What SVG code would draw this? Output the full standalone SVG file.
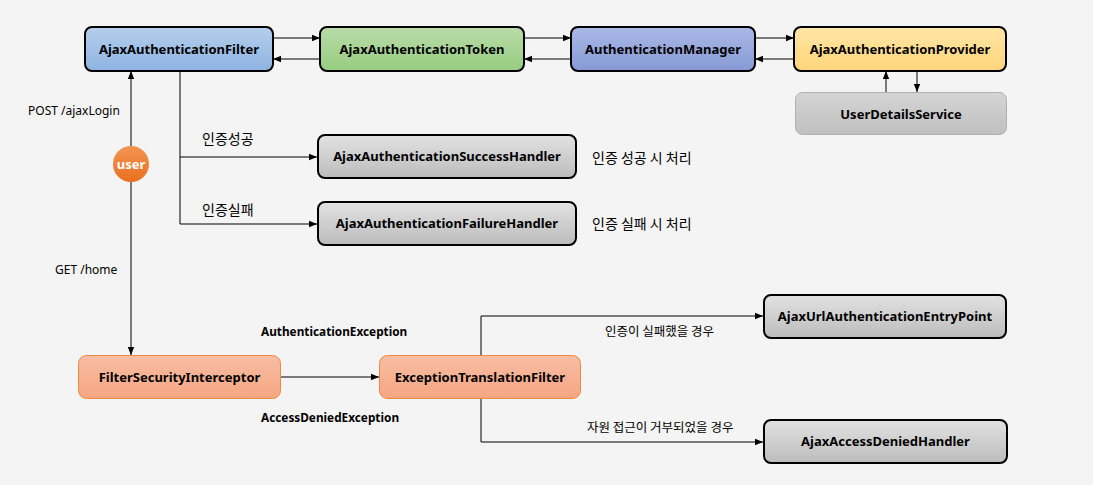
<svg xmlns="http://www.w3.org/2000/svg" width="1093" height="485" viewBox="0 0 1093 485">
<defs>
<linearGradient id="gBlue" x1="0" y1="0" x2="0" y2="1"><stop offset="0" stop-color="#b5cfec"/><stop offset="1" stop-color="#8db3e2"/></linearGradient>
<linearGradient id="gGreen" x1="0" y1="0" x2="0" y2="1"><stop offset="0" stop-color="#b9dcaa"/><stop offset="1" stop-color="#97cc80"/></linearGradient>
<linearGradient id="gPurple" x1="0" y1="0" x2="0" y2="1"><stop offset="0" stop-color="#abb9e6"/><stop offset="1" stop-color="#8599d4"/></linearGradient>
<linearGradient id="gYellow" x1="0" y1="0" x2="0" y2="1"><stop offset="0" stop-color="#ffe6a6"/><stop offset="1" stop-color="#ffd57a"/></linearGradient>
<linearGradient id="gGray" x1="0" y1="0" x2="0" y2="1"><stop offset="0" stop-color="#e2e2e2"/><stop offset="1" stop-color="#bcbcbc"/></linearGradient>
<linearGradient id="gLight" x1="0" y1="0" x2="0" y2="1"><stop offset="0" stop-color="#d4d4d4"/><stop offset="1" stop-color="#c0c0c0"/></linearGradient>
<linearGradient id="gOrange" x1="0" y1="0" x2="0" y2="1"><stop offset="0" stop-color="#f8bda4"/><stop offset="1" stop-color="#f5a682"/></linearGradient>
<linearGradient id="gUser" x1="0" y1="0" x2="0" y2="1"><stop offset="0" stop-color="#f49453"/><stop offset="1" stop-color="#e8701f"/></linearGradient>
<marker id="arr" viewBox="0 0 10 10" refX="10" refY="5" markerWidth="8" markerHeight="8" markerUnits="userSpaceOnUse" orient="auto">
<path d="M0,1 L10,5 L0,9 Z" fill="#000"/>
</marker>
</defs>
<style>
.box{stroke:#000;stroke-width:2}
.soft{stroke:#b0b0b0;stroke-width:1}
.orng{stroke:#f0893e;stroke-width:1}
.nl{font-family:"Noto Sans","Liberation Sans","Noto Sans CJK KR",sans-serif;font-weight:bold;font-size:13px;fill:#000;text-anchor:middle}
.lb{font-family:"Noto Sans","Noto Sans CJK KR","Liberation Sans",sans-serif;font-size:12px;fill:#000}
.kr{font-family:"Noto Sans CJK KR","Noto Sans",sans-serif;font-size:14px;fill:#000}
.krs{font-family:"Noto Sans CJK KR","Noto Sans",sans-serif;font-size:12.5px;fill:#000}
.ex{font-family:"Noto Sans","Liberation Sans",sans-serif;font-weight:bold;font-size:11.8px;fill:#000}
.cn{fill:none;stroke:#000;stroke-width:1;marker-end:url(#arr)}
</style>
<rect width="1093" height="485" fill="#f4f4f4"/>

<g id="connectors">
<path class="cn" d="M273,38 H320"/>
<path class="cn" d="M320,59 H273"/>
<path class="cn" d="M524,38 H571"/>
<path class="cn" d="M571,59 H524"/>
<path class="cn" d="M755,38 H794"/>
<path class="cn" d="M794,59 H755"/>
<path class="cn" d="M886,92 V71"/>
<path class="cn" d="M917,71 V92"/>
<path class="cn" d="M131,146 V71"/>
<path class="cn" d="M131,182 V355"/>
<path class="cn" d="M180,71 V157 H317"/>
<path class="cn" d="M180,157 V224 H317"/>
<path class="cn" d="M281,377 H379"/>
<path class="cn" d="M481,355 V316 H763"/>
<path class="cn" d="M481,398 V442 H763"/>
</g>

<g id="labels">
<text class="lb" x="28" y="115">POST /ajaxLogin</text>
<text class="lb" x="55" y="274">GET /home</text>
<text class="kr" x="202" y="144">인증성공</text>
<text class="kr" x="202" y="215">인증실패</text>
<text class="kr" x="592" y="163">인증 성공 시 처리</text>
<text class="kr" x="592" y="229">인증 실패 시 처리</text>
<text class="ex" x="261" y="336">AuthenticationException</text>
<text class="ex" x="261" y="422">AccessDeniedException</text>
<text class="krs" x="605" y="336">인증이 실패했을 경우</text>
<text class="krs" x="587" y="432">자원 접근이 거부되었을 경우</text>
</g>

<g id="user">
<circle cx="131" cy="164" r="18" fill="url(#gUser)"/>
<text class="nl" x="131" y="168.5" style="fill:#fff">user</text>
</g>

<g id="ajaxAuthenticationFilter">
<rect class="box" x="85" y="27" width="188" height="44" rx="7" fill="url(#gBlue)"/>
<text class="nl" x="179" y="53.5">AjaxAuthenticationFilter</text>
</g>
<g id="ajaxAuthenticationToken">
<rect class="box" x="320" y="27" width="204" height="44" rx="7" fill="url(#gGreen)"/>
<text class="nl" x="422" y="53.5">AjaxAuthenticationToken</text>
</g>
<g id="authenticationManager">
<rect class="box" x="571" y="27" width="184" height="44" rx="7" fill="url(#gPurple)"/>
<text class="nl" x="663" y="53.5">AuthenticationManager</text>
</g>
<g id="ajaxAuthenticationProvider">
<rect class="box" x="794" y="27" width="212" height="44" rx="7" fill="url(#gYellow)"/>
<text class="nl" x="900" y="53.5">AjaxAuthenticationProvider</text>
</g>
<g id="userDetailsService">
<rect class="soft" x="795.5" y="92.5" width="211" height="42" rx="7" fill="url(#gLight)"/>
<text class="nl" x="901" y="118.5">UserDetailsService</text>
</g>
<g id="successHandler">
<rect class="box" x="318" y="135" width="258" height="43" rx="7" fill="url(#gGray)"/>
<text class="nl" x="447" y="161">AjaxAuthenticationSuccessHandler</text>
</g>
<g id="failureHandler">
<rect class="box" x="318" y="202" width="258" height="43" rx="7" fill="url(#gGray)"/>
<text class="nl" x="447" y="228">AjaxAuthenticationFailureHandler</text>
</g>
<g id="filterSecurityInterceptor">
<rect class="orng" x="78.5" y="355.5" width="202" height="43" rx="8" fill="url(#gOrange)"/>
<text class="nl" x="179.5" y="381.5">FilterSecurityInterceptor</text>
</g>
<g id="exceptionTranslationFilter">
<rect class="orng" x="379.5" y="355.5" width="201" height="43" rx="8" fill="url(#gOrange)"/>
<text class="nl" x="480" y="381.5">ExceptionTranslationFilter</text>
</g>
<g id="entryPoint">
<rect class="box" x="764" y="295" width="242" height="43" rx="7" fill="url(#gGray)"/>
<text class="nl" x="885" y="321">AjaxUrlAuthenticationEntryPoint</text>
</g>
<g id="accessDeniedHandler">
<rect class="box" x="764" y="420" width="243" height="43" rx="7" fill="url(#gGray)"/>
<text class="nl" x="885.5" y="446">AjaxAccessDeniedHandler</text>
</g>
</svg>
